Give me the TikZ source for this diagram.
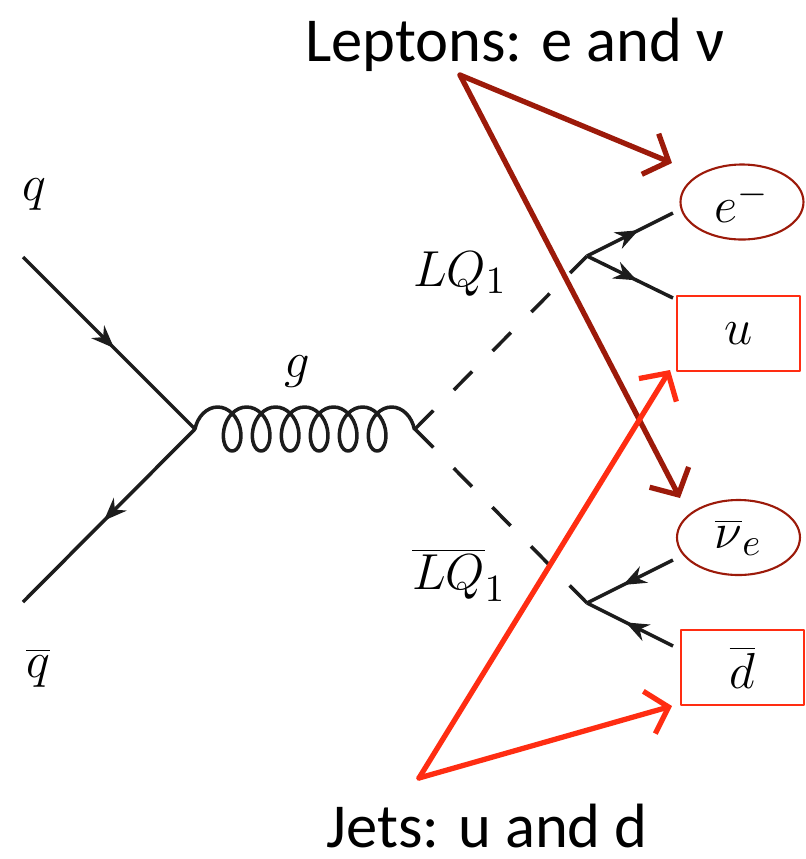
\documentclass[tikz,border=0pt]{standalone}
\usepackage{fontspec}
\newfontfamily\calibfont{Carlito}
\usetikzlibrary{arrows.meta,decorations.pathmorphing,decorations.markings,shapes.geometric}
\definecolor{ink}{HTML}{1C1C1C}
\definecolor{lepred}{HTML}{9C1A0A}
\definecolor{jetred}{HTML}{FF2D12}

\begin{document}
\begin{tikzpicture}[line cap=round,line join=round,
  fermion/.style={ink,line width=1pt,line cap=butt,postaction={decorate},
    decoration={markings,mark=at position #1 with {\arrow{Stealth[length=2.3mm,width=1.8mm]}}}},
  fermion/.default=0.56,
  scalar/.style={ink,line width=1pt,line cap=butt,dash pattern=on 0.26cm off 0.29cm},
  gluon/.style={ink,line width=1pt,decorate,
    decoration={coil,amplitude=0.22cm,segment length=0.29cm,aspect=0.7}},
  plab/.style={font=\fontsize{15}{18}\selectfont,inner sep=0pt},
  lepbox/.style={ellipse,draw=lepred,line width=0.6pt,minimum width=1.23cm,
    minimum height=0.75cm,inner sep=0pt,font=\fontsize{15}{18}\selectfont},
  jetbox/.style={rectangle,draw=jetred,line width=0.7pt,minimum width=1.23cm,
    minimum height=0.75cm,inner sep=0pt,font=\fontsize{15}{18}\selectfont},
  leparrow/.style={lepred,line width=1.5pt,-{Straight Barb[length=2mm,width=4.4mm]}},
  jetarrow/.style={jetred,line width=1.5pt,-{Straight Barb[length=2mm,width=4.4mm]}},
  callout/.style={font=\calibfont\fontsize{17.8}{22}\selectfont,inner sep=0pt,anchor=base}]
  \useasboundingbox (0,0) rectangle (8.06,-8.59);

  \coordinate (qin) at (0.23,-2.57);
  \coordinate (qbout) at (0.23,-6.02);
  \coordinate (vg) at (1.95,-4.29);
  \coordinate (vlq) at (4.15,-4.29);
  \coordinate (vup) at (5.87,-2.56);
  \coordinate (vdn) at (5.87,-6.03);
  \coordinate (eend) at (6.73,-2.13);
  \coordinate (uend) at (6.73,-2.98);
  \coordinate (nuend) at (6.73,-5.60);
  \coordinate (dend) at (6.73,-6.46);

  \node[plab] (qlab) at (0.34,-1.95) {$q$};
  \node[plab] (qblab) at (0.38,-6.68) {$\overline{q}$};
  \node[plab] (glab) at (2.97,-3.72) {$g$};
  \node[plab] (lqlab) at (4.60,-2.74) {$LQ_1$};
  \node[plab] (lqblab) at (4.59,-5.75) {$\overline{LQ}_1$};

  \draw[fermion=0.53] (qin) -- (vg);
  \draw[fermion=0.53] (vg) -- (qbout);
  \draw[gluon] (vg) -- (vlq);
  \draw[scalar] (vlq) -- (vup);
  \draw[scalar] (vlq) -- (vdn);
  \draw[fermion=0.6] (vup) -- (eend);
  \draw[fermion=0.58] (vup) -- (uend);
  \draw[fermion=0.58] (nuend) -- (vdn);
  \draw[fermion=0.55] (dend) -- (vdn);

  \node[lepbox] (e) at (7.42,-2.02) {$e^-$};
  \node[jetbox] (u) at (7.385,-3.335) {$u$};
  \node[lepbox] (nu) at (7.385,-5.375) {$\overline{\nu}_e$};
  \node[jetbox] (d) at (7.425,-6.675) {$\overline{d}$};

  \node[callout] (leptons) at (5.15,-0.61) {Leptons: e and ν};
  \node[callout] (jets) at (4.87,-8.47) {Jets: u and d};
  \coordinate (lepfoot) at (4.60,-0.75);
  \coordinate (jetfoot) at (4.19,-7.78);
  \coordinate (etip) at (6.72,-1.63);
  \coordinate (nutip) at (6.80,-4.98);
  \coordinate (utip) at (6.70,-3.70);
  \coordinate (dtip) at (6.72,-7.06);

  \draw[leparrow] (lepfoot) -- (etip);
  \draw[leparrow] (lepfoot) -- (nutip);
  \draw[jetarrow] (jetfoot) -- (utip);
  \draw[jetarrow] (jetfoot) -- (dtip);
\end{tikzpicture}
\end{document}
